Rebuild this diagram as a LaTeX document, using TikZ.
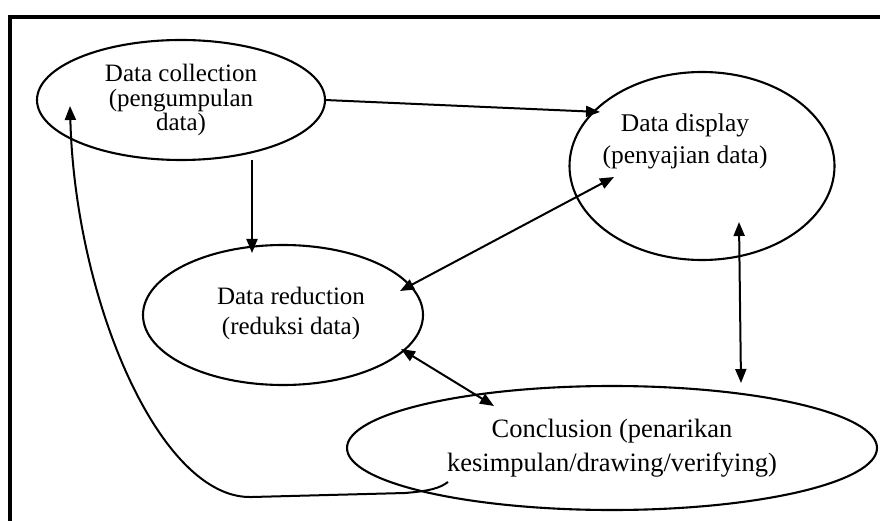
\documentclass[tikz,border=0pt]{standalone}
\usepackage{fontspec}
\setmainfont{Liberation Serif}
\usetikzlibrary{shapes.geometric,arrows.meta}
\begin{document}
\begin{tikzpicture}[x=1pt,y=-1pt,
  stage/.style={draw,line width=2.1pt,ellipse,inner sep=0pt,align=center},
  caption/.style={inner sep=0pt,align=center},
  link/.style={line width=2pt,-{Triangle[length=14pt,width=11pt]}},
  dlink/.style={line width=2pt,{Triangle[length=14pt,width=11pt]}-{Triangle[length=14pt,width=11pt]}}]
\useasboundingbox (0,0) rectangle (880,521);
% outer frame
\draw[line width=4pt] (10,530) -- (10,17) -- (890,17);
% stages
\node[stage,minimum width=288pt,minimum height=120pt,font=\fontsize{25}{24.5}\selectfont] (coll) at (181,100)
  {Data collection\\(pengumpulan\\data)};
\node[stage,minimum width=265pt,minimum height=188pt] (disp) at (702,166) {};
\node[caption,font=\fontsize{25.5}{32}\selectfont] (dispText) at (685,141)
  {Data display\\(penyajian data)};
\node[stage,minimum width=280pt,minimum height=140pt] (red) at (283,315) {};
\node[caption,font=\fontsize{25}{30}\selectfont] (redText) at (291,313)
  {Data reduction\\(reduksi data)};
\node[stage,minimum width=530pt,minimum height=124pt,font=\fontsize{26.5}{34}\selectfont] (conc) at (612,448)
  {Conclusion (penarikan\\kesimpulan/drawing/verifying)};
% connectors
\draw[link] (325,100) -- (600,112);
\draw[link] (252,160) -- (252,253);
\draw[dlink] (400,291) -- (614,177);
\draw[dlink] (401,349) -- (494,406);
\draw[dlink] (739,222) -- (741,383);
% feedback loop from the conclusion back to data collection
\coordinate (loopstart) at (448,482);
\draw[link] (loopstart) .. controls (440,488) and (430,491) .. (405,493)
  -- (252,497) .. controls (160,500) and (75,300) .. (70,106);
\end{tikzpicture}
\end{document}
